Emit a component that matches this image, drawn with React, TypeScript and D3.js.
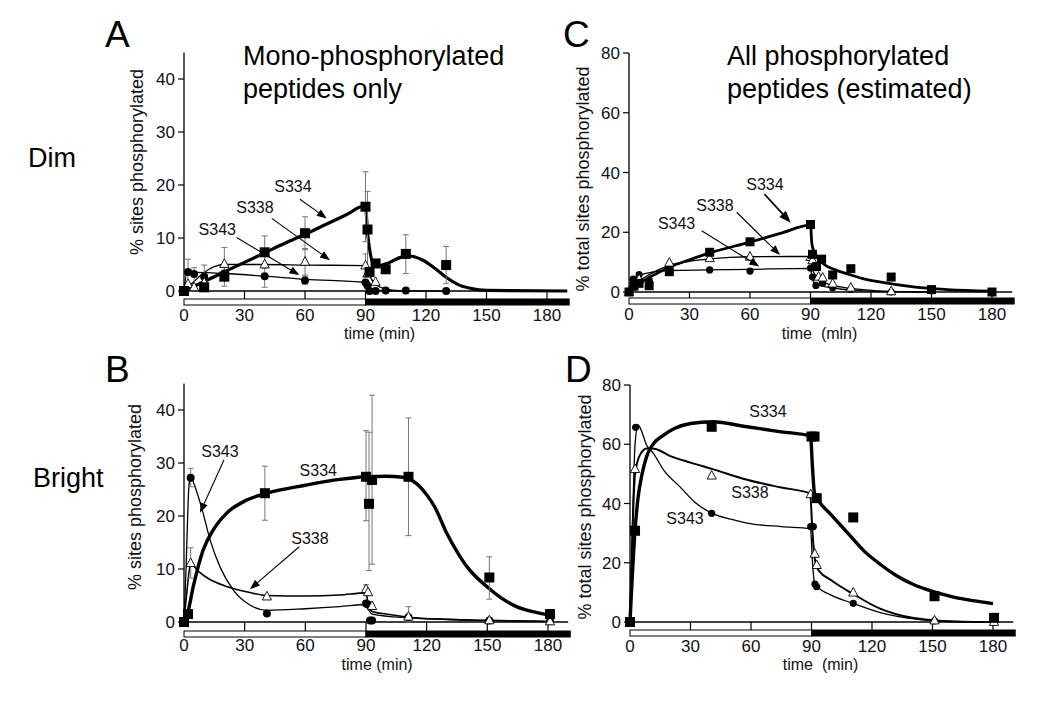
import * as d3 from "d3";

const FONT = "'Liberation Sans', Arial, Helvetica, sans-serif";

// [time, value, errTop?, errBottom?]
type Obs = [number, number, number?, number?];
type Fit = [number, number][];

// ---- A: dim light, mono-phosphorylated peptides
const A_S334: Obs[] = [
  [0, 0], [10, 0.7], [20, 2.7, 4.5, 0.9], [40, 7.3, 10.4, 4.3], [60, 10.9, 14, 7.8],
  [90, 15.9, 22.5, 9.3], [91, 11.6, 18.8, 4.4], [92, 3.6], [95, 5.2], [100, 4.1],
  [110, 7.0, 10.6, 3.3], [130, 4.9, 8.4, 1.4],
];
const A_S338: Obs[] = [
  [0, 0], [2, 1.3, 6, 0], [5, 0.7, 4.4, 0], [10, 1.6, 4.9, 0], [20, 5.1, 8.2, 2.0],
  [40, 5.0, 7.5, 0.7], [60, 5.5, 8, 3], [90, 4.8, 7, 2.6], [91, 3.3], [95, 1.7],
];
const A_S343: Obs[] = [
  [0, 0], [2, 3.6], [5, 3.2], [10, 2.7], [20, 3.3], [40, 2.8], [60, 2.0, 2.8, 1.3],
  [90, 1.6], [91, 1.0], [92, 0], [95, 0], [100, 0.1], [110, 0.1], [130, 0],
];
const A_S334_FIT: Fit = [
  [0, 0], [10, 1.8], [20, 3.6], [30, 5.4], [40, 7.2], [50, 9], [60, 10.7], [70, 12.5],
  [80, 14.3], [90, 16.1], [91, 11], [92.5, 6.8], [94, 5.2], [97, 4.8], [102, 5.4], [107, 6.3],
  [112, 6.6], [118, 5.9], [124, 4.4], [130, 2.6], [136, 1.2], [142, 0.5], [150, 0.1], [190, 0],
];
const A_S338_FIT: Fit = [
  [0, 0], [5, 1.8], [10, 3.5], [15, 4.6], [20, 5], [40, 5], [60, 4.9], [90, 4.8], [91, 4],
  [93, 2.2], [96, 1.0], [100, 0.4], [105, 0.1], [110, 0],
];
const A_S343_FIT: Fit = [
  [0, 0], [1.5, 3.5], [5, 3.5], [20, 3.3], [40, 2.8], [60, 2.2], [90, 1.6], [91, 1.0],
  [92, 0.5], [94, 0.15], [100, 0.05], [130, 0],
];

// ---- B: bright light, mono-phosphorylated peptides
const B_S334: Obs[] = [
  [0, 0], [2, 1.5], [40, 24.3, 29.4, 19.2], [90, 27.4, 36.1, 19.1], [91.5, 22.3, 35.8, 9.7],
  [93, 26.8, 42.8, 10.9], [111, 27.4, 38.5, 16.3], [151, 8.4, 12.3, 4.3], [181, 1.5],
];
const B_S338: Obs[] = [
  [0, 0], [3.3, 11.1, 14, 8.3], [41, 4.8], [90, 6.2, 7, 5.5], [91, 5.6], [93, 3.0],
  [111, 1.0], [151, 0.3], [181, 0.1],
];
const B_S343: Obs[] = [
  [0, 0], [3.3, 27.2, 29, 25.5], [41, 1.6], [90, 3.5], [91, 3.3], [92, 0.3], [93, 0.3],
  [111, 0.9, 2.9, 0], [151, 0.3], [181, 0.2],
];
const B_S334_FIT: Fit = [
  [0, 0], [2, 2], [4.6, 6.7], [9.5, 13.6], [14.5, 17.4], [21, 20.5], [31, 23], [41, 24.3],
  [60, 25.8], [77, 26.9], [90, 27.4], [100, 27.5], [108, 27.3], [115, 26.1], [120, 24],
  [124, 21.7], [130, 16.7], [135, 13.3], [140, 10.4], [150, 6.6], [157, 4.5], [165, 2.8],
  [172, 2], [181, 1.3],
];
const B_S338_FIT: Fit = [
  [0, 0], [1.5, 6], [3.3, 11], [7, 9.6], [12, 8.2], [21, 6.7], [32, 5.6], [41, 5.0],
  [60, 4.9], [77, 5.1], [90, 5.5], [91, 3.5], [93, 2], [100, 1.5], [111, 0.9], [130, 0.5],
  [150, 0.3], [181, 0.1],
];
const B_S343_FIT: Fit = [
  [0, 0], [1, 10], [2.5, 26], [3.3, 27.5], [5, 26], [8.7, 21.6], [12.9, 15.5], [17.8, 10.4],
  [24.4, 6], [32.6, 3.2], [41, 2.2], [60, 2.5], [77, 2.9], [90, 3.3], [91, 2.5], [93, 1.5],
  [111, 0.8], [150, 0.3], [181, 0.1],
];

// ---- C: dim light, all phosphorylated peptides (estimated)
const C_S334: Obs[] = [
  [0, 0], [2.5, 2], [5, 2.9], [10, 2.1], [20, 6.8], [40, 13.3], [60, 16.8], [90, 22.6],
  [91, 12.6], [93, 8.5], [95.5, 11], [101, 5.7], [110, 7.8], [130, 5], [150, 0.8], [180, 0],
];
const C_S338: Obs[] = [
  [0, 0], [1.7, 1.8], [5, 4.3], [20, 9.8], [40, 11.3], [60, 11.8], [90, 11.7], [91, 10.6],
  [94, 5.1], [96, 4.8], [101, 2.8], [110, 1.4], [130, 0.2],
];
const C_S343: Obs[] = [
  [0, 0], [2, 4.3], [5, 5.8], [10, 3.9], [20, 6.7], [40, 7.4], [60, 7.0], [90, 8], [91, 5],
  [92.7, 2.2], [96, 3], [101, 1.4], [110, 0.8], [130, 0],
];
const C_S334_FIT: Fit = [
  [0, 0], [5, 2.8], [8.8, 4.4], [14, 6.3], [20, 8.3], [30, 10.8], [40, 13.1], [60, 16.7],
  [75, 19.6], [90, 22.4], [90.7, 16], [92.3, 12.8], [96.5, 9.4], [102, 7.5], [108, 6.1], [116, 4.5],
  [125, 3.3], [141, 1.7], [158, 0.8], [180, 0.3],
];
const C_S338_FIT: Fit = [
  [0, 0], [5, 3.6], [10, 5.8], [20, 8.9], [30, 10.3], [40, 11.1], [60, 11.8], [90, 11.9],
  [90.7, 8.3], [93, 5], [96.5, 3.3], [104.7, 1.7], [116, 0.8], [130, 0.2], [150, 0],
];
const C_S343_FIT: Fit = [
  [0, 0], [2, 4], [5, 5.4], [12, 6.7], [20, 7.2], [40, 7.4], [60, 7.6], [90, 7.9],
  [90.7, 5], [92.3, 2.8], [96.5, 1.9], [104.7, 1], [116, 0.4], [130, 0.1], [150, 0],
];

// ---- D: bright light, all phosphorylated peptides (estimated)
const D_S334: Obs[] = [
  [0, 0], [2.5, 30.8], [40.5, 65.9], [90, 62.6], [91.5, 62.6], [92.6, 41.8], [110.7, 35.3],
  [151, 8.7], [180.5, 1.4],
];
const D_S338: Obs[] = [
  [0, 0], [2.5, 51.6], [40.5, 49.4], [89.6, 43.1], [91.6, 23], [92.6, 19.2], [110.7, 9.9],
  [151, 0.5], [180.5, 0],
];
const D_S343: Obs[] = [
  [0, 0], [2.8, 65.7], [40.5, 36.7], [89.6, 32.2], [90.9, 32.2], [91.7, 12.8], [92.6, 11.9],
  [110.7, 6.3], [151, 0.4], [180.5, 0],
];
const D_S334_FIT: Fit = [
  [0, 0], [2.5, 31], [4, 42], [6, 50], [8.3, 56], [12, 60.5], [16.5, 63], [22, 65.3],
  [30, 67], [41, 67.6], [58, 65.9], [75, 64.2], [89.5, 62.8], [90.5, 52], [91.5, 43.4],
  [93.5, 41], [100, 36], [108, 30], [116, 24], [124, 19.5], [132, 15.7], [140, 12.8],
  [150, 10.3], [160, 8.5], [170, 7.2], [180, 6.2],
];
const D_S338_FIT: Fit = [
  [0, 0], [1, 25], [2.5, 50], [5, 56.5], [8.3, 58.6], [12, 58.5], [20, 56], [30, 53.8],
  [41, 51.6], [58, 48], [75, 45.4], [89.3, 43.4], [90.5, 30], [91.5, 22], [93, 18],
  [100, 14], [110.8, 9.4], [124, 4.5], [140, 1.4], [150, 0.6], [165, 0.1], [180, 0],
];
const D_S343_FIT: Fit = [
  [0, 0], [1.5, 40], [2.5, 60], [4, 66.5], [6, 64], [8, 60], [11.6, 56.9], [17, 51],
  [24.8, 45.6], [32, 40.5], [41, 36.6], [50, 34.7], [58, 33.4], [75, 32.2], [89.5, 31.5],
  [90.5, 20], [91.5, 13], [93, 11.8], [100, 9], [111, 6.2], [125, 3], [140.6, 1.1],
  [150, 0.5], [165, 0.1], [180, 0],
];

const X_TICKS = [0, 30, 60, 90, 120, 150, 180];
const Y_TICKS_MONO = [0, 10, 20, 30, 40];
const Y_TICKS_ALL = [0, 20, 40, 60, 80];

type Note = { name: string; at: [number, number]; from?: [number, number]; to?: [number, number]; heavy?: boolean };

const A_NOTES: Note[] = [
  { name: "S334", at: [54, 18.7], from: [57.5, 17.3], to: [70.8, 13.7] },
  { name: "S338", at: [35.2, 14.7], from: [43.5, 13.7], to: [72.4, 5.8] },
  { name: "S343", at: [16.5, 10.6], from: [26.1, 10.1], to: [57.2, 3.0] },
];
const B_NOTES: Note[] = [
  { name: "S343", at: [17.8, 31.2], from: [19.8, 30.6], to: [7.9, 20.6] },
  { name: "S334", at: [66.4, 27.6] },
  { name: "S338", at: [62.3, 14.8], from: [57, 14.2], to: [32.6, 6.2] },
];
const C_NOTES: Note[] = [
  { name: "S334", at: [67.4, 34.1], from: [67.1, 32.8], to: [80.2, 23.2], heavy: true },
  { name: "S338", at: [42.6, 27.2], from: [53.4, 26.7], to: [74.9, 12.4] },
  { name: "S343", at: [23.6, 21], from: [36, 20.5], to: [64.6, 8.5] },
];
const D_NOTES: Note[] = [
  { name: "S334", at: [68.4, 69.3] },
  { name: "S338", at: [59.5, 41.7] },
  { name: "S343", at: [27.3, 33.1] },
];

type Series = { name: "S334" | "S338" | "S343"; obs: Obs[]; fit: Fit; lw: number };

type PanelCfg = {
  letter: string;
  letterX: number;
  letterY: number;
  x0: number;
  x180: number;
  y0: number;
  yRefPx: number;
  yRefVal: number;
  yTop: number;
  yTicks: number[];
  tickLabelY: number;
  xLabel: string;
  xLabelT: number;
  xLabelY: number;
  yLabel: string;
  yLabelX: number;
  yLabelY: number;
  barOffset: number;
  series: Series[];
  notes: Note[];
  sq: number;
  circR: number;
};

const PANELS: PanelCfg[] = [
  {
    letter: "A", letterX: 105, letterY: 47, x0: 184, x180: 547, y0: 291, yRefPx: 79, yRefVal: 40,
    yTop: 45, yTicks: Y_TICKS_MONO, tickLabelY: 321, xLabel: "time (min)", xLabelT: 97, xLabelY: 339,
    yLabel: "% sites phosphorylated", yLabelX: 143, yLabelY: 162, barOffset: 8,
    series: [
      { name: "S343", obs: A_S343, fit: A_S343_FIT, lw: 1.3 },
      { name: "S338", obs: A_S338, fit: A_S338_FIT, lw: 1.3 },
      { name: "S334", obs: A_S334, fit: A_S334_FIT, lw: 3.2 },
    ],
    notes: A_NOTES, sq: 10, circR: 4,
  },
  {
    letter: "B", letterX: 105, letterY: 382, x0: 184, x180: 548, y0: 622, yRefPx: 410, yRefVal: 40,
    yTop: 45, yTicks: Y_TICKS_MONO, tickLabelY: 651, xLabel: "time (min)", xLabelT: 95.5, xLabelY: 670,
    yLabel: "% sites phosphorylated", yLabelX: 141, yLabelY: 497, barOffset: 9,
    series: [
      { name: "S343", obs: B_S343, fit: B_S343_FIT, lw: 1.3 },
      { name: "S338", obs: B_S338, fit: B_S338_FIT, lw: 1.6 },
      { name: "S334", obs: B_S334, fit: B_S334_FIT, lw: 3.4 },
    ],
    notes: B_NOTES, sq: 10, circR: 4,
  },
  {
    letter: "C", letterX: 563, letterY: 47, x0: 629, x180: 992, y0: 292, yRefPx: 53, yRefVal: 80,
    yTop: 80, yTicks: Y_TICKS_ALL, tickLabelY: 320, xLabel: "time  (mln)", xLabelT: 94.5, xLabelY: 339,
    yLabel: "% total sites phosphorylated", yLabelX: 589, yLabelY: 179, barOffset: 6,
    series: [
      { name: "S343", obs: C_S343, fit: C_S343_FIT, lw: 1.3 },
      { name: "S338", obs: C_S338, fit: C_S338_FIT, lw: 1.4 },
      { name: "S334", obs: C_S334, fit: C_S334_FIT, lw: 2.8 },
    ],
    notes: C_NOTES, sq: 9, circR: 3.6,
  },
  {
    letter: "D", letterX: 565, letterY: 382, x0: 630, x180: 993, y0: 622, yRefPx: 385, yRefVal: 80,
    yTop: 80, yTicks: Y_TICKS_ALL, tickLabelY: 652, xLabel: "time  (min)", xLabelT: 94.5, xLabelY: 670,
    yLabel: "% total sites phosphorylated", yLabelX: 591, yLabelY: 507, barOffset: 8,
    series: [
      { name: "S343", obs: D_S343, fit: D_S343_FIT, lw: 1.3 },
      { name: "S338", obs: D_S338, fit: D_S338_FIT, lw: 2 },
      { name: "S334", obs: D_S334, fit: D_S334_FIT, lw: 3.4 },
    ],
    notes: D_NOTES, sq: 10, circR: 3.6,
  },
];

function Marker({ name, x, y, sq, r }: { name: string; x: number; y: number; sq: number; r: number }) {
  if (name === "S334")
    return <rect x={x - sq / 2} y={y - sq / 2} width={sq} height={sq} fill="#000" />;
  if (name === "S343") return <circle cx={x} cy={y} r={r} fill="#000" />;
  return (
    <path
      d={`M${x},${y - 5.2}L${x + 4.6},${y + 3.4}L${x - 4.6},${y + 3.4}Z`}
      fill="#fff"
      stroke="#000"
      strokeWidth={0.9}
    />
  );
}

function Arrow({ x1, y1, x2, y2, heavy }: { x1: number; y1: number; x2: number; y2: number; heavy?: boolean }) {
  const a = Math.atan2(y2 - y1, x2 - x1);
  const len = heavy ? 12 : 10;
  const w = heavy ? 4.5 : 3.8;
  const bx = x2 - len * Math.cos(a);
  const by = y2 - len * Math.sin(a);
  const px = -Math.sin(a) * w;
  const py = Math.cos(a) * w;
  return (
    <g>
      <line x1={x1} y1={y1} x2={bx} y2={by} stroke="#000" strokeWidth={heavy ? 1.8 : 1.1} />
      <path d={`M${x2},${y2}L${bx + px},${by + py}L${bx - px},${by - py}Z`} fill="#000" />
    </g>
  );
}

function Panel({ p }: { p: PanelCfg }) {
  const x = d3.scaleLinear().domain([0, 180]).range([p.x0, p.x180]);
  const y = d3.scaleLinear().domain([0, p.yRefVal]).range([p.y0, p.yRefPx]);
  const line = d3
    .line<[number, number]>()
    .x((d) => x(d[0]))
    .y((d) => y(d[1]))
    .curve(d3.curveMonotoneX);
  const xEnd = x(190);
  const barTop = p.y0 + p.barOffset;
  const tickFont = { fontFamily: FONT, fontSize: 17, fill: "#111" };

  return (
    <g>
      <text x={p.letterX} y={p.letterY} style={{ fontFamily: FONT, fontSize: 37 }} fill="#000">
        {p.letter}
      </text>

      {/* y axis */}
      <line x1={p.x0} x2={p.x0} y1={y(p.yTop)} y2={p.y0} stroke="#000" strokeWidth={1.3} />
      {p.yTicks.map((t) => (
        <g key={t}>
          <line x1={p.x0 - 6} x2={p.x0} y1={y(t)} y2={y(t)} stroke="#000" strokeWidth={1.2} />
          <text x={p.x0 - 9} y={y(t) + 6} textAnchor="end" style={tickFont}>
            {t}
          </text>
        </g>
      ))}
      <text
        transform={`translate(${p.yLabelX},${p.yLabelY}) rotate(-90)`}
        textAnchor="middle"
        style={{ fontFamily: FONT, fontSize: 18, fill: "#111" }}
      >
        {p.yLabel}
      </text>

      {/* x axis and light/dark bar */}
      <line x1={p.x0} x2={xEnd} y1={p.y0} y2={p.y0} stroke="#000" strokeWidth={1.3} />
      {X_TICKS.filter((t) => t > 0).map((t) => (
        <line key={t} x1={x(t)} x2={x(t)} y1={p.y0} y2={barTop} stroke="#000" strokeWidth={1.2} />
      ))}
      <rect x={p.x0} y={barTop} width={x(90) - p.x0} height={6} fill="#fff" stroke="#000" strokeWidth={1} />
      <rect x={x(90)} y={barTop} width={xEnd + 2 - x(90)} height={6} fill="#000" stroke="#000" strokeWidth={1} />
      {X_TICKS.map((t) => (
        <text key={t} x={x(t)} y={p.tickLabelY} textAnchor="middle" style={tickFont}>
          {t}
        </text>
      ))}
      <text
        x={x(p.xLabelT)}
        y={p.xLabelY}
        textAnchor="middle"
        style={{ fontFamily: FONT, fontSize: 16, fill: "#111", whiteSpace: "pre" }}
      >
        {p.xLabel}
      </text>

      {/* fitted curves */}
      {p.series.map((s) => (
        <path key={`f-${s.name}`} d={line(s.fit) ?? ""} fill="none" stroke="#000" strokeWidth={s.lw} strokeLinejoin="round" />
      ))}

      {/* error bars */}
      {p.series.map((s) =>
        s.obs
          .filter((o) => o[2] !== undefined)
          .map((o, i) => (
            <g key={`e-${s.name}-${i}`} stroke="#777" strokeWidth={1}>
              <line x1={x(o[0])} x2={x(o[0])} y1={y(o[2] as number)} y2={y(o[3] as number)} />
              <line x1={x(o[0]) - 3} x2={x(o[0]) + 3} y1={y(o[2] as number)} y2={y(o[2] as number)} />
              <line x1={x(o[0]) - 3} x2={x(o[0]) + 3} y1={y(o[3] as number)} y2={y(o[3] as number)} />
            </g>
          )),
      )}

      {/* markers */}
      {p.series.map((s) =>
        s.obs.map((o, i) => (
          <Marker key={`m-${s.name}-${i}`} name={s.name} x={x(o[0])} y={y(o[1])} sq={p.sq} r={p.circR} />
        )),
      )}

      {/* labels */}
      {p.notes.map((n) => (
        <g key={`n-${n.name}`}>
          <text x={x(n.at[0])} y={y(n.at[1])} textAnchor="middle" style={{ fontFamily: FONT, fontSize: 16, fill: "#111" }}>
            {n.name}
          </text>
          {n.from && n.to && (
            <Arrow x1={x(n.from[0])} y1={y(n.from[1])} x2={x(n.to[0])} y2={y(n.to[1])} heavy={n.heavy} />
          )}
        </g>
      ))}
    </g>
  );
}

export default function App() {
  const titleStyle = { fontFamily: FONT, fontSize: 27, fill: "#000" };
  return (
    <svg width={1050} height={701} style={{ display: "block", position: "absolute", left: 0, top: 0, background: "#fff" }}>
      <rect width={1050} height={701} fill="#fff" />
      <text x={28} y={167} style={{ fontFamily: FONT, fontSize: 27, fill: "#000" }}>Dim</text>
      <text x={33} y={487} style={{ fontFamily: FONT, fontSize: 27, fill: "#000" }}>Bright</text>
      <text x={243} y={65} style={titleStyle}>Mono-phosphorylated</text>
      <text x={243} y={98} style={titleStyle}>peptides only</text>
      <text x={727} y={65} style={titleStyle}>All phosphorylated</text>
      <text x={727} y={98} style={titleStyle}>peptides (estimated)</text>
      {PANELS.map((p) => (
        <Panel key={p.letter} p={p} />
      ))}
    </svg>
  );
}
